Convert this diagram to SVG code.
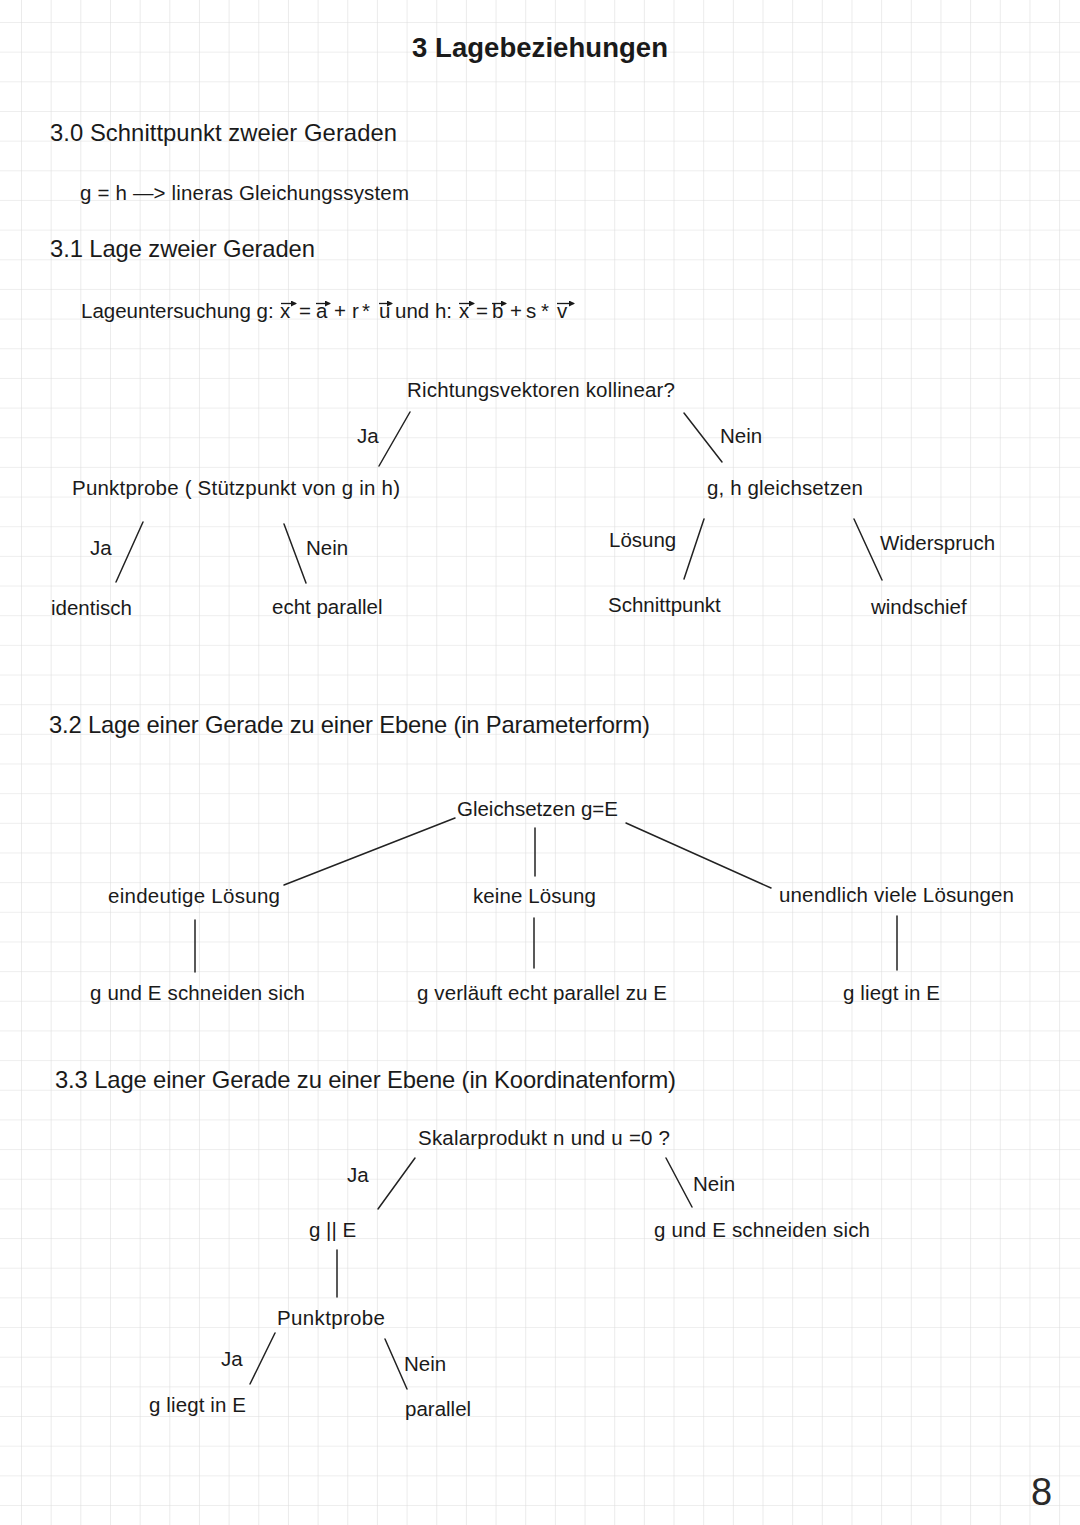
<svg xmlns="http://www.w3.org/2000/svg" width="1080" height="1525" viewBox="0 0 1080 1525">
<defs>
<pattern id="grid" patternUnits="userSpaceOnUse" x="21" y="22" width="29.66" height="29.66">
<path d="M0 0H29.66M0 0V29.66" fill="none" stroke="#dedede" stroke-width="1.2"/>
</pattern>
<marker id="vh" viewBox="0 0 6 6" refX="5" refY="3" markerWidth="6" markerHeight="6" markerUnits="userSpaceOnUse" orient="auto">
<path d="M0 0L6 3L0 6Z" fill="#1a1a1a"/>
</marker>
<style>
text{font-family:"Liberation Sans",Arial,Helvetica,sans-serif;fill:#1a1a1a;font-size:20.5px}
.h{font-size:23.8px}
.t{font-size:27.5px;font-weight:bold}
.c line{stroke:#222;stroke-width:1.5;stroke-linecap:round}
.v{stroke:#1a1a1a;stroke-width:1.3;fill:none}
</style>
</defs>
<rect width="1080" height="1525" fill="#ffffff"/>
<rect width="1080" height="1525" fill="url(#grid)"/>

<g id="title"><text class="t" x="412" y="57" textLength="256">3 Lagebeziehungen</text></g>
<g id="h30"><text class="h" x="50" y="141" textLength="347">3.0 Schnittpunkt zweier Geraden</text></g>
<g id="gleich"><text x="80" y="200" textLength="329">g = h —&gt; lineras Gleichungssystem</text></g>
<g id="h31"><text class="h" x="50" y="257" textLength="265">3.1 Lage zweier Geraden</text></g>
<g id="lageunters">
<text y="318"><tspan x="81">Lageuntersuchung g:</tspan><tspan x="280">x</tspan><tspan x="299">=</tspan><tspan x="316">a</tspan><tspan x="334">+</tspan><tspan x="352">r</tspan><tspan x="362">*</tspan><tspan x="379">u</tspan><tspan x="395">und h:</tspan><tspan x="459">x</tspan><tspan x="476">=</tspan><tspan x="492">b</tspan><tspan x="510">+</tspan><tspan x="526">s</tspan><tspan x="541">*</tspan><tspan x="557">v</tspan></text>
<path class="v" marker-end="url(#vh)" d="M281 303.5H296"/>
<path class="v" marker-end="url(#vh)" d="M316 303.5H330"/>
<path class="v" marker-end="url(#vh)" d="M379 303.5H392"/>
<path class="v" marker-end="url(#vh)" d="M459 303.5H474"/>
<path class="v" marker-end="url(#vh)" d="M492 303.5H506"/>
<path class="v" marker-end="url(#vh)" d="M557 303.5H574"/>
</g>

<g id="n1-root"><text x="407" y="397" textLength="268">Richtungsvektoren kollinear?</text></g>
<g id="n1-ja-label"><text x="357" y="443">Ja</text></g>
<g id="n1-nein-label"><text x="720" y="443">Nein</text></g>
<g id="n1-punktprobe"><text x="72" y="495" textLength="328">Punktprobe ( Stützpunkt von g in h)</text></g>
<g id="n1-gleichsetzen"><text x="707" y="495" textLength="156">g, h gleichsetzen</text></g>
<g id="n1-ja2-label"><text x="90" y="555">Ja</text></g>
<g id="n1-nein2-label"><text x="306" y="555">Nein</text></g>
<g id="n1-loesung-label"><text x="609" y="547">Lösung</text></g>
<g id="n1-widerspruch-label"><text x="880" y="550">Widerspruch</text></g>
<g id="n1-identisch"><text x="51" y="615">identisch</text></g>
<g id="n1-echtparallel"><text x="272" y="614">echt parallel</text></g>
<g id="n1-schnittpunkt"><text x="608" y="612">Schnittpunkt</text></g>
<g id="n1-windschief"><text x="871" y="614">windschief</text></g>

<g id="h32"><text class="h" x="49" y="733" textLength="601">3.2 Lage einer Gerade zu einer Ebene (in Parameterform)</text></g>
<g id="n2-root"><text x="457" y="816" textLength="161">Gleichsetzen g=E</text></g>
<g id="n2-eindeutig"><text x="108" y="903" textLength="172">eindeutige Lösung</text></g>
<g id="n2-keine"><text x="473" y="903" textLength="123">keine Lösung</text></g>
<g id="n2-unendlich"><text x="779" y="902" textLength="235">unendlich viele Lösungen</text></g>
<g id="n2-schneiden"><text x="90" y="1000" textLength="215">g und E schneiden sich</text></g>
<g id="n2-parallel"><text x="417" y="1000" textLength="250">g verläuft echt parallel zu E</text></g>
<g id="n2-liegt"><text x="843" y="1000" textLength="97">g liegt in E</text></g>

<g id="h33"><text class="h" x="55" y="1088" textLength="621">3.3 Lage einer Gerade zu einer Ebene (in Koordinatenform)</text></g>
<g id="n3-root"><text x="418" y="1145" textLength="252">Skalarprodukt n und u =0 ?</text></g>
<g id="n3-ja-label"><text x="347" y="1182">Ja</text></g>
<g id="n3-nein-label"><text x="693" y="1191">Nein</text></g>
<g id="n3-gpar"><text x="309" y="1237">g || E</text></g>
<g id="n3-schneiden"><text x="654" y="1237" textLength="216">g und E schneiden sich</text></g>
<g id="n3-punktprobe"><text x="277" y="1325" textLength="108">Punktprobe</text></g>
<g id="n3-ja2-label"><text x="221" y="1366">Ja</text></g>
<g id="n3-nein2-label"><text x="404" y="1371">Nein</text></g>
<g id="n3-liegt"><text x="149" y="1412" textLength="97">g liegt in E</text></g>
<g id="n3-parallel"><text x="405" y="1416">parallel</text></g>

<g id="pagenum"><text x="1031" y="1505" style="font-size:38px;fill:#2a2a2a">8</text></g>

<g id="connectors" class="c">
<line x1="410" y1="412" x2="379" y2="466"/>
<line x1="684" y1="413" x2="722" y2="462"/>
<line x1="143" y1="522" x2="116" y2="582"/>
<line x1="284" y1="524" x2="306" y2="583"/>
<line x1="704" y1="519" x2="684" y2="579"/>
<line x1="854" y1="519" x2="882" y2="580"/>
<line x1="455" y1="818" x2="284" y2="885"/>
<line x1="535" y1="828" x2="535" y2="876"/>
<line x1="626" y1="823" x2="771" y2="888"/>
<line x1="195" y1="920" x2="195" y2="972"/>
<line x1="534" y1="918" x2="534" y2="968"/>
<line x1="897" y1="916" x2="897" y2="970"/>
<line x1="415" y1="1158" x2="378" y2="1209"/>
<line x1="666" y1="1158" x2="692" y2="1207"/>
<line x1="337" y1="1250" x2="337" y2="1297"/>
<line x1="275" y1="1333" x2="250" y2="1384"/>
<line x1="385" y1="1339" x2="407" y2="1389"/>
</g>
</svg>
